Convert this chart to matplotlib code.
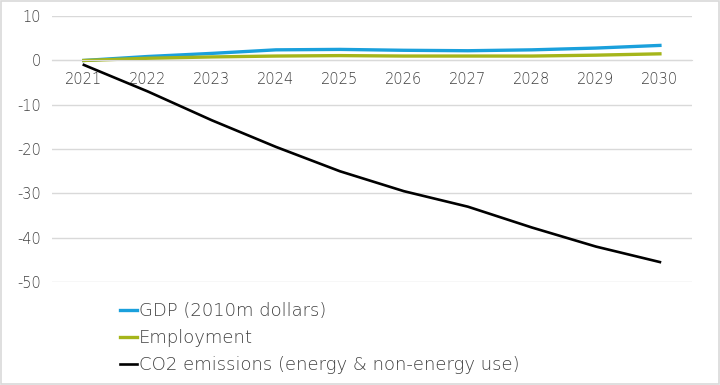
import matplotlib.pyplot as plt
from matplotlib.patches import Rectangle

years = ['2021', '2022', '2023', '2024', '2025', '2026', '2027', '2028', '2029', '2030']
gdp = [0, 0.9, 1.6, 2.4, 2.5, 2.3, 2.2, 2.4, 2.8, 3.4]
employment = [0, 0.5, 0.8, 1.0, 1.1, 1.0, 1.0, 1.0, 1.2, 1.5]
co2 = [-1, -7, -13.5, -19.5, -25, -29.5, -33, -37.7, -42, -45.5]

plt.rcParams['font.family'] = ['DejaVu Sans']
plt.rcParams['axes.unicode_minus'] = False

fig = plt.figure(figsize=(7.2, 3.85), dpi=100)
fig.patch.set_facecolor('white')
# light border around the whole chart
fig.patches.append(Rectangle((0.001, 0.002), 0.997, 0.995, transform=fig.transFigure,
                             fill=False, edgecolor='#d9d9d9', linewidth=1.2))

ax = fig.add_axes([0.072, 0.2675, 0.889, 0.6905])
x = range(len(years))
l1, = ax.plot(x, gdp, color='#1aa0dc', linewidth=2.4, label='GDP (2010m dollars)')
l2, = ax.plot(x, employment, color='#a5b51a', linewidth=2.4, label='Employment')
l3, = ax.plot(x, co2, color='black', linewidth=1.9, label='CO2 emissions (energy & non-energy use)')

ax.set_xlim(-0.5, len(years) - 0.5)
ax.set_ylim(-50, 10)
ax.set_yticks(range(-50, 11, 10))
ax.set_xticks(list(x))
ax.set_xticklabels(years)

ax.grid(axis='y', color='#d9d9d9', linewidth=1)
ax.set_axisbelow(True)
for s in ['top', 'right', 'left']:
    ax.spines[s].set_visible(False)
ax.spines['bottom'].set_position(('data', 0))
ax.spines['bottom'].set_color('#d9d9d9')
ax.tick_params(axis='both', length=0, labelsize=10.5, colors='#404040')
ax.tick_params(axis='x', pad=8)
ax.tick_params(axis='y', pad=8)
for lab in ax.get_xticklabels() + ax.get_yticklabels():
    lab.set_fontweight('light')

fig.legend(handles=[l1, l2, l3], loc='upper left', bbox_to_anchor=(0.167, 0.215),
           frameon=False, prop={'size': 13, 'weight': 'light'}, handlelength=0.95,
           handletextpad=0.1, labelspacing=0.5, labelcolor='#404040',
           borderaxespad=0, borderpad=0)

fig.savefig('out.png', dpi=100)
